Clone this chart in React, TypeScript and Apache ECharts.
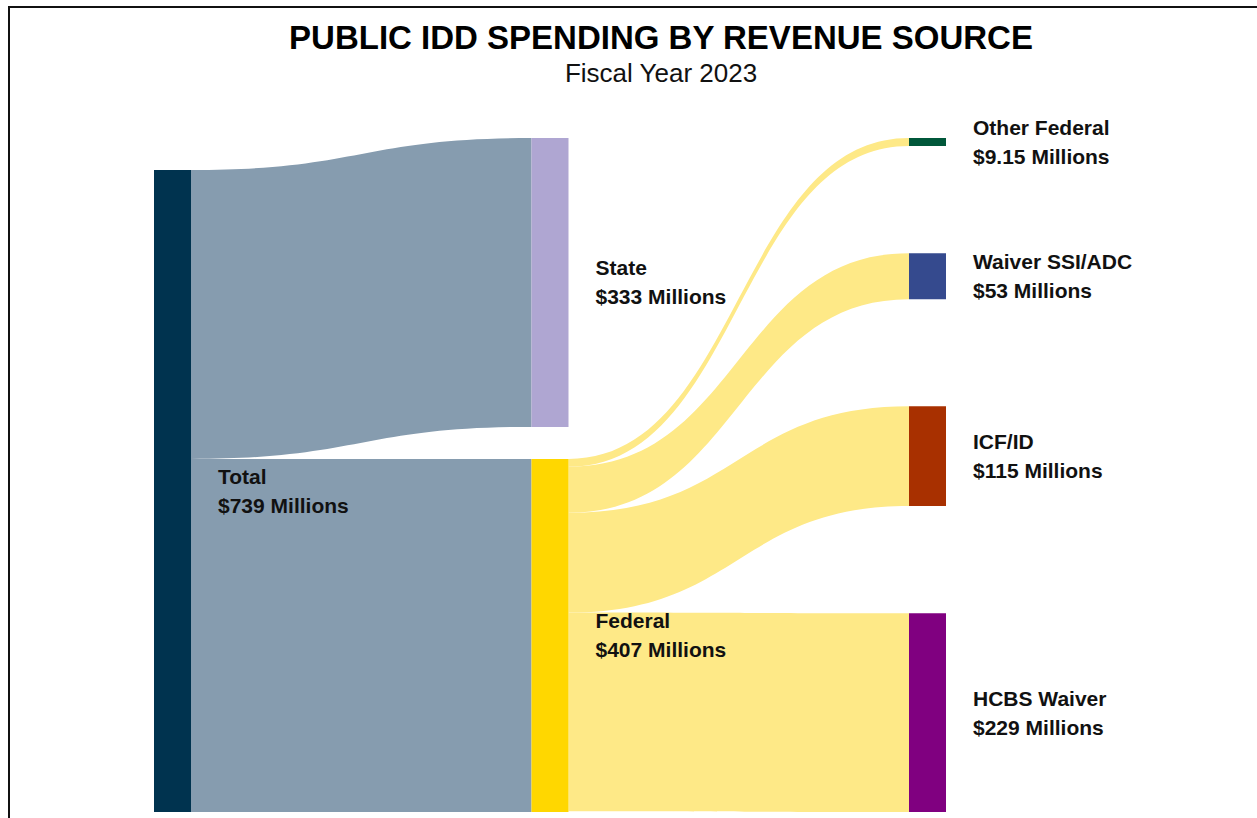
import React, { useEffect, useRef } from "react";
import * as echarts from "echarts";

// ---- data ----
const nodeNames = ["Total", "State", "Federal", "Other Federal", "Waiver SSI/ADC", "ICF/ID", "HCBS Waiver"];
const nodeValues = [739, 333, 407, 9.15, 53, 115, 229];
const nodeColors = ["#00334F", "#AFA6D2", "#FFD700", "#00573A", "#354A8E", "#A83000", "#800080"];

const linkSources = ["Total", "Total", "Federal", "Federal", "Federal", "Federal"];
const linkTargets = ["State", "Federal", "Other Federal", "Waiver SSI/ADC", "ICF/ID", "HCBS Waiver"];
const linkValues = [333, 407, 9.15, 53, 115, 229];

const linkColorBySource: Record<string, string> = { Total: "#869CAF", Federal: "#FEE987" };

const columns = [
  ["Total"],
  ["State", "Federal"],
  ["Other Federal", "Waiver SSI/ADC", "ICF/ID", "HCBS Waiver"],
];

const W = 1257;
const Hpx = 818;
const TOP = 138;
const BOTTOM = 6;
const LEFT = 154;
const RIGHT = 311;
const NODE_GAP = 32;

function computeLocalY(): Record<string, number> {
  const H = Hpx - TOP - BOTTOM;
  const val: Record<string, number> = {};
  nodeNames.forEach((n, i) => {
    let outS = 0, inS = 0;
    linkSources.forEach((s, j) => { if (s === n) outS += linkValues[j]; });
    linkTargets.forEach((t, j) => { if (t === n) inS += linkValues[j]; });
    val[n] = Math.max(outS, inS, nodeValues[i]);
  });
  let ky = Infinity;
  columns.forEach((col) => {
    const sum = col.reduce((a, n) => a + val[n], 0);
    ky = Math.min(ky, (H - (col.length - 1) * NODE_GAP) / sum);
  });
  const res: Record<string, number> = {};
  columns.forEach((col) => {
    const hs = col.map((n) => val[n] * ky);
    const total = hs.reduce((a, b) => a + b, 0);
    if (col.length === 1) {
      res[col[0]] = (H - hs[0]) / H;
    } else {
      const gap = (H - total) / (col.length - 1);
      let y = 0;
      col.forEach((n, i) => {
        res[n] = y / H;
        y += hs[i] + gap;
      });
    }
  });
  return res;
}

export default function App() {
  const ref = useRef<HTMLDivElement>(null);
  useEffect(() => {
    if (!ref.current) return;
    const chart = echarts.init(ref.current, undefined, { renderer: "svg" });
    const localY = computeLocalY();
    const valueByName: Record<string, number> = {};
    nodeNames.forEach((n, i) => (valueByName[n] = nodeValues[i]));
    const depthByName: Record<string, number> = {};
    columns.forEach((col, d) => col.forEach((n) => (depthByName[n] = d)));

    chart.setOption({
      animation: false,
      backgroundColor: "#ffffff",
      title: [
        {
          text: "PUBLIC IDD SPENDING BY REVENUE SOURCE",
          left: 661,
          top: 19,
          padding: 0,
          textAlign: "center",
          textStyle: {
            fontFamily: "Liberation Sans",
            fontWeight: "bold",
            fontSize: 33,
            lineHeight: 36,
            color: "#000000",
          },
        },
        {
          text: "Fiscal Year 2023",
          left: 661,
          top: 59,
          padding: 0,
          textAlign: "center",
          textStyle: {
            fontFamily: "Liberation Sans",
            fontWeight: "normal",
            fontSize: 26,
            lineHeight: 28,
            color: "#111111",
          },
        },
      ],
      graphic: [
        {
          type: "polyline",
          shape: { points: [[9, 818], [9, 7], [1257, 7]] },
          style: { stroke: "#111111", lineWidth: 2, fill: null },
          silent: true,
        },
      ],
      series: [
        {
          type: "sankey",
          left: LEFT,
          right: RIGHT,
          top: TOP,
          bottom: BOTTOM,
          nodeWidth: 37,
          nodeGap: NODE_GAP,
          nodeAlign: "left",
          layoutIterations: 0,
          draggable: false,
          emphasis: { disabled: true },
          data: nodeNames.map((n, i) => ({
            name: n,
            value: nodeValues[i],
            depth: depthByName[n],
            localY: localY[n],
            itemStyle: { color: nodeColors[i], borderWidth: 0 },
          })),
          links: linkSources.map((s, i) => ({
            source: s,
            target: linkTargets[i],
            value: linkValues[i],
            lineStyle: { color: linkColorBySource[s], opacity: 1 },
          })),
          lineStyle: { curveness: 0.5, opacity: 1 },
          label: {
            show: true,
            position: "right",
            distance: 27,
            fontFamily: "Liberation Sans",
            fontWeight: "bold",
            fontSize: 21,
            lineHeight: 29,
            color: "#111111",
            formatter: (p: any) => `${p.name}\n$${valueByName[p.name]} Millions`,
          },
        },
      ],
    });
    return () => chart.dispose();
  }, []);
  return (
    <div
      ref={ref}
      style={{ position: "fixed", left: 0, top: 0, width: W, height: Hpx, background: "#fff" }}
    />
  );
}
